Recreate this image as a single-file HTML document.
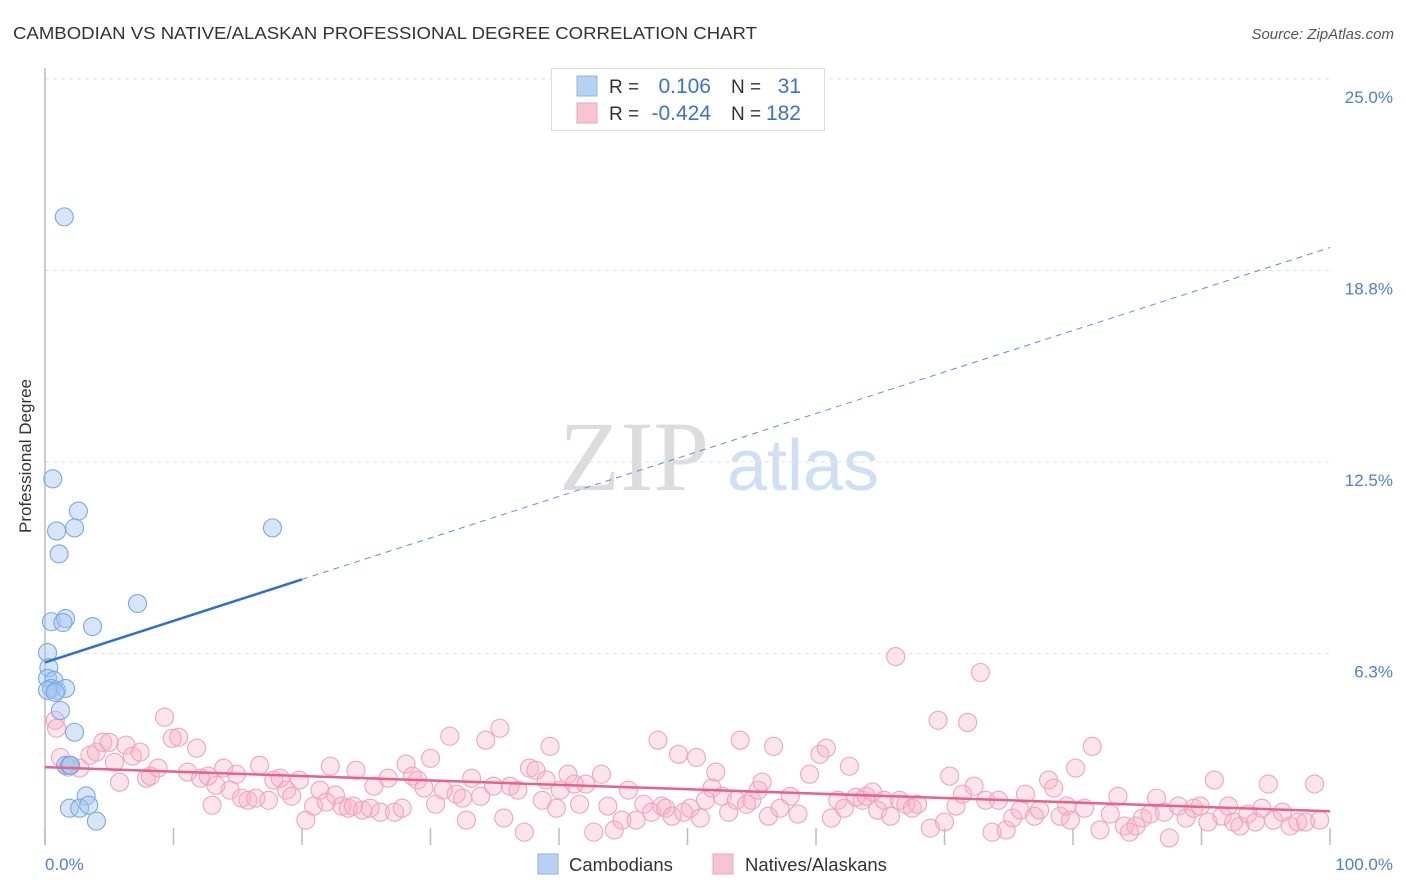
<!DOCTYPE html>
<html><head><meta charset="utf-8">
<style>
body{margin:0;background:#fff;font-family:"Liberation Sans",sans-serif;}
#wrap{position:relative;width:1406px;height:892px;overflow:hidden;}
</style></head>
<body>
<div id="wrap">
<svg id="svg" width="1406" height="892" xmlns="http://www.w3.org/2000/svg">
<text x="13" y="39" font-size="17.5" fill="#333" textLength="744" lengthAdjust="spacingAndGlyphs">CAMBODIAN VS NATIVE/ALASKAN PROFESSIONAL DEGREE CORRELATION CHART</text>
<text x="1394" y="39" font-size="15" fill="#555" font-style="italic" text-anchor="end">Source: ZipAtlas.com</text>
<text x="634" y="490" font-size="100" fill="#dcdcdc" font-family="Liberation Serif" text-anchor="middle">ZIP</text>
<text x="803" y="490" font-size="72" fill="#cfdff4" text-anchor="middle">atlas</text>
<g id="grid"></g>
<line x1="45" y1="68" x2="45" y2="845" stroke="#bbb" stroke-width="1.5"/>
<g id="ticks"></g>
<g id="pts"></g>
<g id="trend"></g>
<text x="31" y="456" font-size="17" fill="#333" text-anchor="middle" transform="rotate(-90 31 456)">Professional Degree</text>
<text x="45" y="870" font-size="17" fill="#4a7fd4">0.0%</text>
<text x="1393" y="870" font-size="17" fill="#4a7fd4" text-anchor="end">100.0%</text>
<g>
<rect x="551.5" y="68.5" width="273" height="62" fill="#fff" stroke="#ddd"/>
<rect x="577" y="76" width="20" height="20" fill="#b7d1f3" stroke="#8fb3e6"/>
<rect x="577" y="103" width="20" height="20" fill="#f8c4d2" stroke="#eda3b9"/>
<text x="609" y="93" font-size="19" fill="#333">R =</text>
<text x="711" y="93" font-size="21" fill="#3a72cf" text-anchor="end">0.106</text>
<text x="731" y="93" font-size="19" fill="#333">N =</text>
<text x="801" y="93" font-size="21" fill="#3a72cf" text-anchor="end">31</text>
<text x="609" y="120" font-size="19" fill="#333">R =</text>
<text x="711" y="120" font-size="21" fill="#3a72cf" text-anchor="end">-0.424</text>
<text x="731" y="120" font-size="19" fill="#333">N =</text>
<text x="801" y="120" font-size="21" fill="#3a72cf" text-anchor="end">182</text>
</g>
<g>
<rect x="538" y="854" width="20" height="20" fill="#b7d1f3" stroke="#8fb3e6"/>
<text x="569" y="871" font-size="18.5" fill="#333">Cambodians</text>
<rect x="713" y="854" width="20" height="20" fill="#f8c4d2" stroke="#eda3b9"/>
<text x="745" y="871" font-size="18.5" fill="#333">Natives/Alaskans</text>
</g>
</svg>
</div>
<script>
const yTicks=[6.25,12.5,18.75,25];
const yTickLabels=["6.3%","12.5%","18.8%","25.0%"];
const xTicks=[0,10,20,30,40,50,60,70,80,90,100];
const blueX=[1.5,0.6,2.6,0.9,2.3,1.1,17.7,7.2,0.5,1.6,1.4,3.7,0.2,0.3,0.2,0.7,0.5,0.9,1.6,1.2,2.3,1.6,1.9,2.0,3.2,1.9,2.7,3.4,4.0,0.2,0.8];
const blueY=[20.5,11.95,10.9,10.25,10.35,9.5,10.35,7.88,7.29,7.39,7.26,7.13,6.28,5.79,5.44,5.37,5.11,5.05,5.11,4.39,3.68,2.6,2.6,2.6,1.6,1.2,1.2,1.3,0.78,5.05,4.98];
const pinkX=[0.8,0.9,1.2,1.8,2.7,3.5,4.0,4.5,5.0,5.4,5.8,6.3,6.8,7.4,7.9,8.2,8.8,9.3,9.9,10.4,11.1,11.8,12.1,12.7,13.0,13.3,13.9,14.4,14.9,15.3,15.8,16.4,16.7,17.4,17.8,18.3,18.8,19.2,19.8,20.3,20.9,21.4,21.9,22.2,22.6,23.1,23.6,24.0,24.2,24.7,25.3,25.6,26.1,26.7,27.2,27.8,28.1,28.6,29.0,29.5,30.0,30.4,31.0,31.5,32.0,32.5,32.8,33.2,33.9,34.3,34.9,35.4,35.7,36.2,36.8,37.3,37.7,38.2,38.7,39.0,39.3,39.8,40.1,40.7,41.2,41.6,42.1,42.7,43.3,43.8,44.3,44.9,45.4,46.0,46.6,47.2,47.7,48.0,48.3,48.8,49.3,49.7,50.2,50.7,51.0,51.4,51.9,52.2,52.7,53.2,53.8,54.1,54.6,55.0,55.5,55.8,56.3,56.7,57.2,58.0,58.6,59.5,60.3,60.8,61.2,61.7,62.2,62.6,63.1,63.6,63.9,64.4,64.8,65.3,65.8,66.2,66.5,67.0,67.5,67.9,68.9,69.5,70.0,70.4,70.9,71.4,71.8,72.3,72.8,73.2,73.7,74.2,74.8,75.3,75.9,76.3,77.0,77.4,78.1,78.5,79.0,79.5,79.8,80.2,80.9,81.5,82.1,82.9,83.5,84.0,84.4,84.9,85.4,86.0,86.5,87.1,87.5,88.2,88.8,89.4,89.9,90.5,91.0,91.6,92.1,92.5,93.0,93.6,94.2,94.7,95.2,95.6,96.3,96.9,97.5,98.1,98.8,99.2];
const pinkY=[4.07,3.81,2.86,2.54,2.51,2.93,3.03,3.35,3.35,2.70,2.05,3.26,2.90,3.03,2.18,2.25,2.51,4.17,3.48,3.52,2.38,3.16,2.18,2.25,1.30,1.95,2.51,1.79,2.31,1.53,1.46,1.53,2.60,1.46,2.12,2.18,1.79,1.59,2.12,0.81,1.27,1.79,1.40,2.57,1.63,1.27,1.20,1.27,2.44,1.14,1.20,1.92,1.07,2.18,1.07,1.20,2.64,2.25,2.12,1.86,2.83,1.33,1.79,3.55,1.66,1.53,0.81,2.18,1.59,3.42,1.92,3.81,0.88,1.92,1.79,0.42,2.51,2.44,1.46,2.12,3.22,1.20,1.79,2.31,1.99,1.33,1.99,0.42,2.31,1.27,0.49,0.81,1.79,0.81,1.33,1.07,3.42,1.27,1.20,0.94,2.96,1.07,1.20,2.86,0.88,1.46,1.86,2.38,1.59,1.07,1.46,3.42,1.33,1.46,1.79,2.05,0.94,3.22,1.20,1.59,1.01,2.31,2.96,3.16,0.88,1.46,1.20,2.57,1.56,1.46,1.59,1.73,1.14,1.46,0.94,6.15,1.46,1.33,1.20,1.33,0.55,4.07,0.75,2.25,1.27,1.66,4.00,1.92,5.63,1.46,0.42,1.46,0.49,0.88,1.14,1.66,0.94,1.14,2.12,1.86,0.94,1.27,0.81,2.51,1.20,3.22,0.49,1.01,1.59,0.62,0.42,0.62,0.88,1.01,1.53,1.07,0.23,1.27,0.88,1.20,1.27,0.75,2.12,0.94,1.27,0.75,0.62,1.01,0.75,1.20,1.99,0.81,1.07,0.62,0.75,0.75,1.99,0.81];
const blueTrend=[5.96,19.5];
const pinkTrend=[2.54,1.1];
const blueSolidEnd=20;

const NS="http://www.w3.org/2000/svg";
const X0=45,X1=1330,Y0=845,Y25=79;
const sx=v=>X0+(X1-X0)*v/100;
const sy=v=>Y0-(Y0-Y25)*v/25;
function mk(tag,attrs,parent){const e=document.createElementNS(NS,tag);for(const k in attrs)e.setAttribute(k,attrs[k]);parent.appendChild(e);return e;}
const grid=document.getElementById('grid');
yTicks.forEach((t,i)=>{
  const l=mk('line',{x1:X0,x2:X1,y1:sy(t),y2:sy(t),stroke:'#e2e2e2','stroke-dasharray':'4,4'},grid);
  
  
  const tx=mk('text',{x:1393,y:sy(t)+24,'font-size':17,fill:'#4a7fd4','text-anchor':'end'},grid);
  tx.textContent=yTickLabels[i];
  
  
});
const ticks=document.getElementById('ticks');
xTicks.forEach(t=>{
  const l=mk('line',{x1:sx(t),x2:sx(t),y1:828,y2:845,stroke:'#bbb','stroke-width':1.5},ticks);
  
  
});
const pts=document.getElementById('pts');
pinkX.forEach((x,i)=>{
  const c=mk('circle',{cx:sx(x),cy:sy(pinkY[i]),r:9,fill:'rgba(246,178,198,0.35)',stroke:'#efa5bc','stroke-width':1.1},pts);
  
  
});
blueX.forEach((x,i)=>{
  const c=mk('circle',{cx:sx(x),cy:sy(blueY[i]),r:9,fill:'rgba(165,199,240,0.45)',stroke:'#7aa8e3','stroke-width':1.1},pts);
  
  
});
const tr=document.getElementById('trend');
const by=x=>blueTrend[0]+(blueTrend[1]-blueTrend[0])*x/100;
const b1=mk('line',{x1:sx(0),y1:sy(by(0)),x2:sx(blueSolidEnd),y2:sy(by(blueSolidEnd)),stroke:'#2a6fd6','stroke-width':2.5},tr);


const b2=mk('line',{x1:sx(blueSolidEnd),y1:sy(by(blueSolidEnd)),x2:sx(100),y2:sy(by(100)),stroke:'#5b8fe0','stroke-width':1,'stroke-dasharray':'6,5'},tr);


const p1=mk('line',{x1:sx(0),y1:sy(pinkTrend[0]),x2:sx(100),y2:sy(pinkTrend[1]),stroke:'#e8608c','stroke-width':2.5},tr);


</script>
</body></html>
